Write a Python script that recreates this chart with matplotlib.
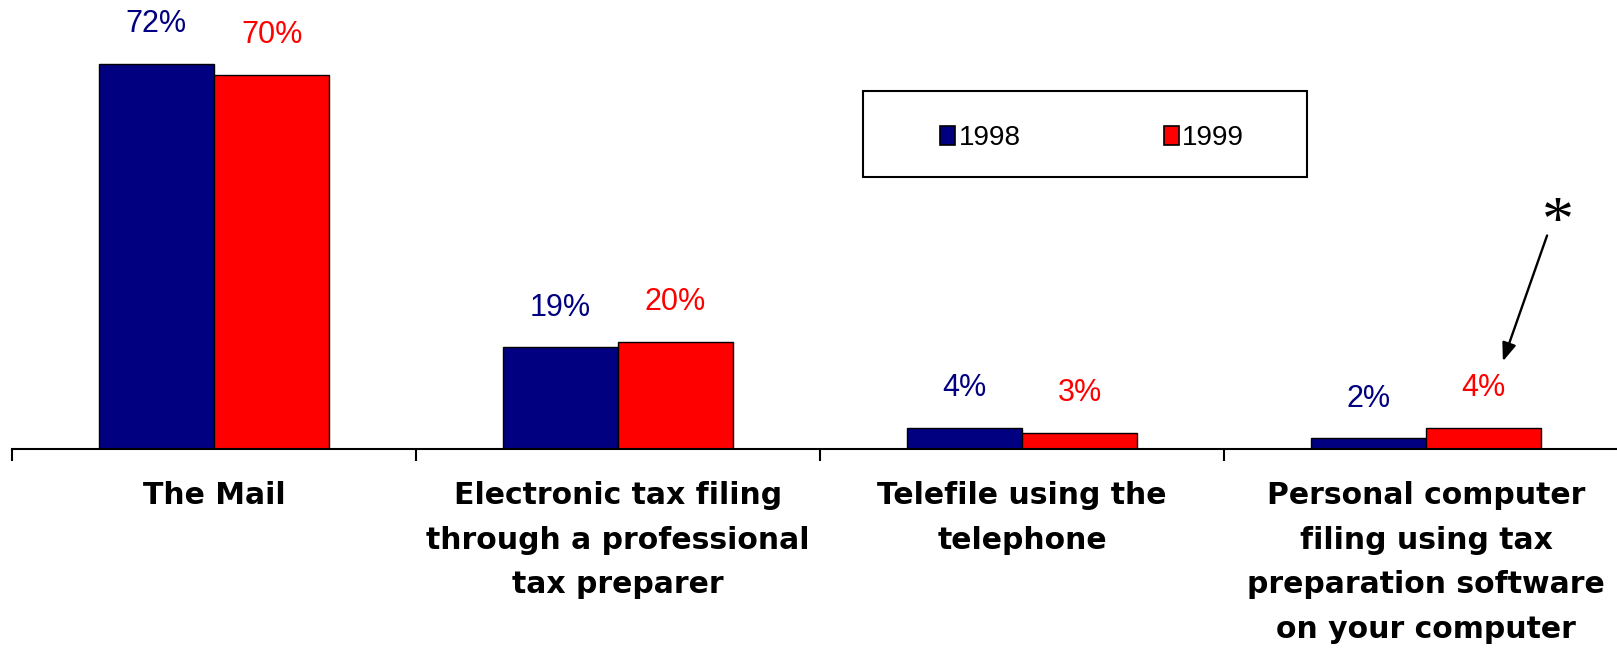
import numpy as np
import matplotlib
matplotlib.use("Agg")
from matplotlib import pyplot as plt
from matplotlib.patches import Rectangle, Patch

# ---------------------------
# data
# ---------------------------
categories = ["The Mail",
              "Electronic tax filing\nthrough a professional\ntax preparer",
              "Telefile using the\ntelephone",
              "Personal computer\nfiling using tax\npreparation software\non your computer"]
years = ["1998", "1999"]
vals_1998 = [72, 19, 4, 2]
vals_1999 = [70, 20, 3, 4]

navy = "#000080"
red = "#FF0000"

plt.rcParams['font.family'] = ['Liberation Sans', 'DejaVu Sans']

W, H = 1617, 652
fig = plt.figure(figsize=(W / 100, H / 100), dpi=100)
# axes from x=12px to beyond the right edge, baseline at y=449px
ax = fig.add_axes([12 / W, (H - 449) / H, 1616 / W, 449 / H])

x = np.arange(len(categories))
bw = 0.285
b1 = ax.bar(x - bw / 2, vals_1998, bw, color=navy, edgecolor="black", linewidth=1.0)
b2 = ax.bar(x + bw / 2, vals_1999, bw, color=red, edgecolor="black", linewidth=1.0)

for bars, vals, col in [(b1, vals_1998, navy), (b2, vals_1999, red)]:
    for r, v in zip(bars, vals):
        ax.annotate(f"{v}%", (r.get_x() + r.get_width() / 2, r.get_height()),
                    xytext=(0, 28.5), textcoords="offset points",
                    ha="center", va="center", color=col, fontsize=22)

ax.set_xlim(-0.5, 3.5)
ax.set_ylim(0, 449 / 5.35)

for s in ["left", "right", "top"]:
    ax.spines[s].set_visible(False)
ax.spines["bottom"].set_linewidth(1.5)
ax.set_yticks([])

# wide bold labels (the original uses loose letter spacing)
ax.set_xticks(x)
ax.set_xticklabels(categories, fontsize=21.5, fontweight="bold", linespacing=1.68,
                   family="DejaVu Sans")
ax.tick_params(axis="x", which="major", length=0, pad=23)
ax.set_xticks(np.arange(-0.5, 4.0, 1.0), minor=True)
ax.tick_params(axis="x", which="minor", length=8.5, width=1.5, direction="out")

# legend with its own box
handles = [Patch(facecolor=navy, edgecolor="black", linewidth=1.2),
           Patch(facecolor=red, edgecolor="black", linewidth=1.2)]
fig.legend(handles, years, loc="center",
           bbox_to_anchor=(1092 / W, 1 - 138 / H), ncol=2, frameon=False,
           prop={'family': ['Liberation Sans Narrow', 'Liberation Sans'], 'size': 20},
           handlelength=0.55, handleheight=0.65, handletextpad=0.12, columnspacing=5.15)
fig.patches.append(Rectangle((863 / W, 1 - 177 / H), (1307 - 863) / W, (177 - 91) / H,
                             transform=fig.transFigure, fill=False,
                             edgecolor="black", linewidth=1.5))

# asterisk note pointing at the 1999 computer filing bar
ax.annotate("", xy=(3.188, 15.9), xytext=(3.302, 40.4),
            arrowprops=dict(arrowstyle="-|>,head_length=1.1,head_width=0.42",
                            color="black", lw=1.7))
ax.text(3.326, 41.8, "*", fontsize=46, ha="center", va="center",
        family="Liberation Serif")

fig.savefig("out.png", dpi=100)
